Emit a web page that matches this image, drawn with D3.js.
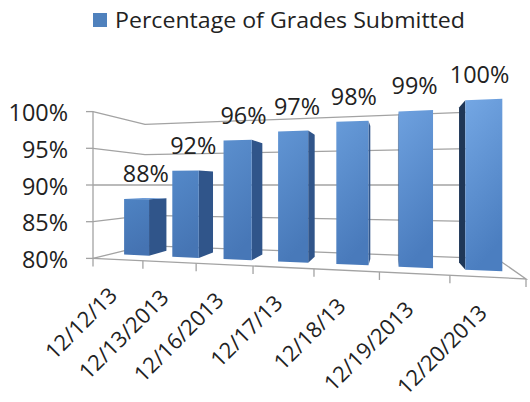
<!DOCTYPE html>
<html><head><meta charset="utf-8">
<script src="https://cdn.jsdelivr.net/npm/d3@7"></script>
<style>
body{margin:0;background:#fff}
svg{display:block}
text{font-family:"Open Sans",sans-serif;fill:#222}
</style>
</head><body>
<svg id="chart" width="530" height="402"></svg>
<script>
// ---- data ----
const categories = ["12/12/13","12/13/2013","12/16/2013","12/17/13","12/18/13","12/19/2013","12/20/2013"];
const values = [88, 92, 96, 97, 98, 99, 100];
const valueTicks = [80, 85, 90, 95, 100];
const seriesName = "Percentage of Grades Submitted";

// ---- layout of the perspective box ----
const frontLeftX = 93, frontRightX = 526, backLeftX = 145;   // screen x of floor corners
const unitFL = 7.34, unitFR = 9.39, unitBL = 6.06;          // px per percent at those corners
const horizonY = 185, horizonValue = 90;
const nCat = categories.length;

const q0 = 1/unitFL, qx = (1/unitFR - 1/unitFL)/nCat, qz = 1/unitBL - 1/unitFL;
const p0 = frontLeftX/unitFL, px = (frontRightX/unitFR - frontLeftX/unitFL)/nCat, pz = backLeftX/unitBL - frontLeftX/unitFL;

const xWorld = d3.scaleBand().domain(categories).range([0, nCat])
  .paddingInner(0.475).paddingOuter(0.2375).align(0.605);
const yWorld = d3.scaleLinear().domain([valueTicks[0], valueTicks[valueTicks.length-1]]).range([0, 20]);
const zWorld = d3.scaleLinear().domain([0, 1]).range([0, 1]);   // 0 front edge, 1 back wall
const barFront = 0.3, barBack = 0.68;

function proj(X, v, z) {
  const zz = zWorld(z);
  const q = q0 + qx*X + qz*zz, p = p0 + px*X + pz*zz;
  const s = 1/q;
  return [p*s, horizonY - (yWorld(v) - yWorld(horizonValue))*s];
}

const svg = d3.select("#chart");
const line = d3.line();
const vMin = valueTicks[0];
const gridColor = "#a3a3a3";

// ---- walls gridlines ----
const grid = svg.append("g").attr("fill","none").attr("stroke",gridColor).attr("stroke-width",1.3);
valueTicks.forEach(v => {
  grid.append("path").attr("d", line([proj(0,v,0), proj(0,v,1), proj(nCat,v,1)]));
});
// floor outline (front and right edges)
grid.append("path").attr("d", line([proj(0,vMin,0), proj(nCat,vMin,0), proj(nCat,vMin,1)]));
// value axis line
grid.append("path").attr("d", line([proj(0,vMin,0), proj(0,valueTicks[valueTicks.length-1],0)]));
// value ticks
valueTicks.forEach(v => {
  const [x,y] = proj(0,v,0);
  grid.append("path").attr("d", line([[x-7,y],[x,y]]));
});
// category ticks
d3.range(nCat+1).forEach(i => {
  const [x,y] = proj(i,vMin,0);
  grid.append("path").attr("d", line([[x,y],[x,y+8]]));
});

// ---- bars ----
const defs = svg.append("defs");
const topCol = d3.interpolateRgb("#4e83c3", "#74a7e4");
const botCol = d3.interpolateRgb("#4573b2", "#4b7ec0");
values.forEach((v,i) => {
  const g = defs.append("linearGradient").attr("id","gf"+i)
    .attr("x1",0).attr("y1",0).attr("x2",0.25).attr("y2",1);
  g.append("stop").attr("offset","0%").attr("stop-color", topCol(i/(nCat-1)));
  g.append("stop").attr("offset","100%").attr("stop-color", botCol(i/(nCat-1)));
});

function area(pts){
  let a=0; for(let k=0;k<pts.length;k++){const [x1,y1]=pts[k],[x2,y2]=pts[(k+1)%pts.length]; a+=x1*y2-x2*y1;} return a/2;
}
const bars = svg.append("g");
categories.forEach((c,i) => {
  const X0 = xWorld(c), X1 = X0 + xWorld.bandwidth(), v = values[i];
  const z0 = barFront, z1 = barBack;
  const faces = [
    {fill:"#1f3757", pts:[proj(X0,vMin,z1),proj(X0,vMin,z0),proj(X0,v,z0),proj(X0,v,z1)]},
    {fill:"#30558a", pts:[proj(X1,vMin,z0),proj(X1,vMin,z1),proj(X1,v,z1),proj(X1,v,z0)]},
    {fill:"#6d9cd8", pts:[proj(X0,v,z0),proj(X1,v,z0),proj(X1,v,z1),proj(X0,v,z1)]},
    {fill:"url(#gf"+i+")", pts:[proj(X0,vMin,z0),proj(X1,vMin,z0),proj(X1,v,z0),proj(X0,v,z0)]}
  ];
  faces.forEach(f => {
    if (area(f.pts) < 0) {
      bars.append("path").attr("d", line(f.pts) + "Z").attr("fill", f.fill);
    }
  });
});

// ---- data labels ----
const fmt = d => d + "%";
const labelPos = (d,i) => proj(xWorld(categories[i]) + xWorld.bandwidth()/2, d + 2.5, (barFront+barBack)/2);
svg.append("g").selectAll("text").data(values).join("text")
  .attr("x", (d,i) => labelPos(d,i)[0])
  .attr("y", (d,i) => labelPos(d,i)[1])
  .attr("text-anchor","middle").attr("font-size", 23.4)
  .text(fmt);

// ---- value axis labels ----
svg.append("g").selectAll("text").data(valueTicks).join("text")
  .attr("x", d => proj(0,d,0)[0] - 25)
  .attr("y", d => proj(0,d,0)[1] + 9.6)
  .attr("text-anchor","end").attr("font-size", 23.4)
  .text(fmt);

// ---- category labels ----
svg.append("g").selectAll("text").data(categories).join("text")
  .attr("transform", (d,i) => {
    const [x,y] = proj(i + 0.5, vMin, 0);
    return `translate(${x+1},${y+37}) rotate(-45)`;
  })
  .attr("text-anchor","end").attr("font-size", 21.8)
  .text(d => d);

// ---- legend ----
const lg = svg.append("g");
lg.append("rect").attr("x",93).attr("y",13).attr("width",14).attr("height",14).attr("fill","#4f81bd");
lg.append("text").attr("x",115).attr("y",28.3).attr("font-size",21)
  .attr("textLength",350).attr("lengthAdjust","spacingAndGlyphs").text(seriesName);
</script>
</body></html>
